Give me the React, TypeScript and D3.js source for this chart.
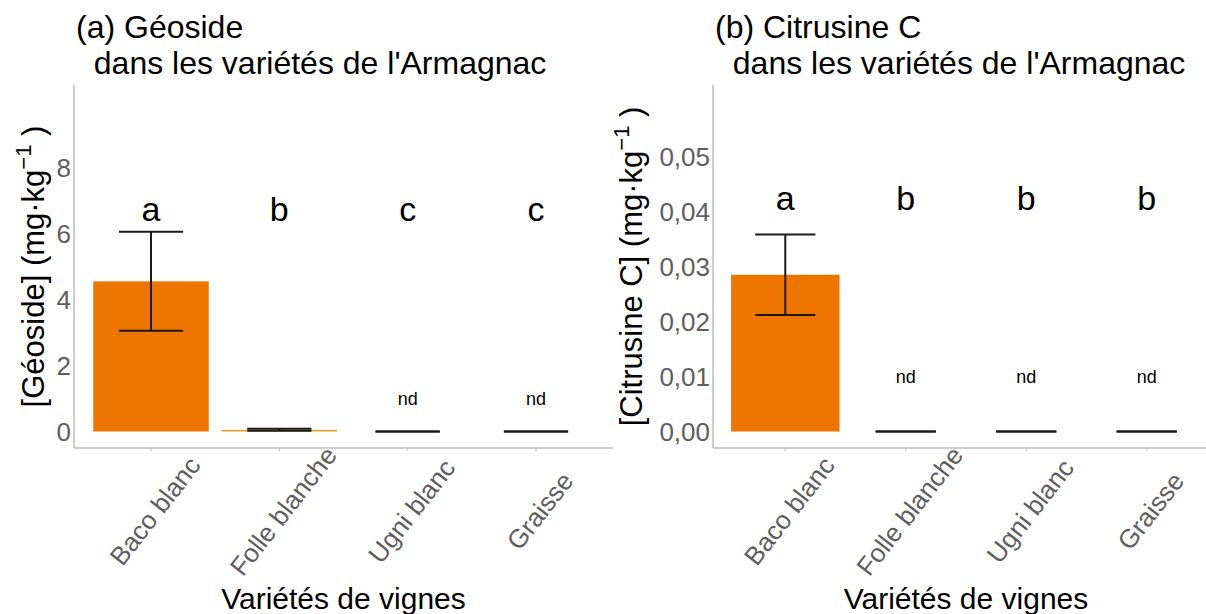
import * as d3 from 'd3'

const categories = ['Baco blanc', 'Folle blanche', 'Ugni blanc', 'Graisse']
const barColors = ['#EE7600', '#E2A32C', '#EE7600', '#EE7600']

// (a) Géoside, mg/kg
const geosideMean = [4.55, 0.05, 0, 0]
const geosideSe = [1.5, 0.03, 0, 0]
const geosideLetters = ['a', 'b', 'c', 'c']
const geosideNd = [false, false, true, true]
const geosideTicks = [0, 2, 4, 6, 8]

// (b) Citrusine C, mg/kg
const citrusineMean = [0.0285, 0, 0, 0]
const citrusineSe = [0.0073, 0, 0, 0]
const citrusineLetters = ['a', 'b', 'b', 'b']
const citrusineNd = [false, true, true, true]
const citrusineTicks = [0, 0.01, 0.02, 0.03, 0.04, 0.05]

const FONT = "'Liberation Sans', Arial, sans-serif"
const AXIS_GREY = '#bdbdbd'
const TICK_GREY = '#5e5e5e'

interface PanelProps {
  left: number
  right: number
  domain: [number, number]
  ticks: number[]
  fmt: (v: number) => string
  means: number[]
  ses: number[]
  letters: string[]
  nd: boolean[]
  letterY: number
  ndY: number
  title: string
  yName: string
  yTitleX: number
}

function Panel(p: PanelProps) {
  const top = 85
  const bottom = 448
  const x = d3.scalePoint<string>().domain(categories).range([p.left, p.right]).padding(0.6)
  const y = d3.scaleLinear().domain(p.domain).range([bottom, top])
  const step = x.step()
  const barW = step * 0.9
  const capW = step * 0.5
  const midX = (p.left + p.right) / 2
  const midY = (top + bottom) / 2

  return (
    <g>
      {/* title */}
      <text x={p.left + 2} y={38} fontSize={32} fill="#000">{p.title}</text>
      <text x={p.left + 2} y={74} fontSize={32} fill="#000" style={{ whiteSpace: 'pre' }}>
        {'  dans les variétés de l\'Armagnac'}
      </text>

      {/* axes */}
      <line x1={p.left} x2={p.left} y1={top} y2={bottom} stroke={AXIS_GREY} strokeWidth={1.5} />
      <line x1={p.left} x2={p.right} y1={bottom} y2={bottom} stroke={AXIS_GREY} strokeWidth={1.5} />
      {categories.map(c => (
        <line key={c} x1={x(c)} x2={x(c)} y1={bottom} y2={bottom + 3} stroke={AXIS_GREY} strokeWidth={1} />
      ))}

      {/* y ticks */}
      {p.ticks.map(t => (
        <text key={t} x={p.left - 3} y={y(t)} fontSize={26} fill={TICK_GREY}
          textAnchor="end" dominantBaseline="central">{p.fmt(t)}</text>
      ))}

      {/* x tick labels, rotated about their centre */}
      {categories.map(c => (
        <text key={c} transform={`translate(${(x(c) ?? 0) + 4},${bottom + 63}) rotate(-52)`}
          fontSize={26} fill={TICK_GREY} textAnchor="middle" dominantBaseline="central">{c}</text>
      ))}

      {/* bars */}
      {categories.map((c, i) => p.means[i] > 0 && (
        <rect key={c} x={(x(c) ?? 0) - barW / 2} y={y(p.means[i])}
          width={barW} height={y(0) - y(p.means[i])} fill={barColors[i]} />
      ))}

      {/* error bars */}
      {categories.map((c, i) => {
        const cx = x(c) ?? 0
        const lo = y(p.means[i] - p.ses[i])
        const hi = y(p.means[i] + p.ses[i])
        return (
          <g key={c} stroke="#1a1a1a" strokeWidth={2}>
            <line x1={cx} x2={cx} y1={lo} y2={hi} />
            <line x1={cx - capW / 2} x2={cx + capW / 2} y1={lo} y2={lo} />
            <line x1={cx - capW / 2} x2={cx + capW / 2} y1={hi} y2={hi} />
          </g>
        )
      })}

      {/* significance letters */}
      {categories.map((c, i) => (
        <text key={c} x={x(c)} y={y(p.letterY)} fontSize={34} fill="#000"
          textAnchor="middle" dominantBaseline="central">{p.letters[i]}</text>
      ))}

      {/* not detected */}
      {categories.map((c, i) => p.nd[i] && (
        <text key={c} x={x(c)} y={y(p.ndY)} fontSize={18} fill="#000"
          textAnchor="middle" dominantBaseline="central">nd</text>
      ))}

      {/* axis titles */}
      <text x={midX} y={609} fontSize={30} fill="#000" textAnchor="middle">Variétés de vignes</text>
      <text transform={`translate(${p.yTitleX},${midY}) rotate(-90)`} fontSize={31} fill="#000"
        textAnchor="middle" style={{ whiteSpace: 'pre' }}>
        {p.yName + ' (mg·kg'}
        <tspan fontSize={22} dy={-13}>−1</tspan>
        <tspan dy={13}>{' )'}</tspan>
      </text>
    </g>
  )
}

export default function App() {
  const fmtComma = (v: number) => d3.format('.2f')(v).replace('.', ',')
  return (
    <svg width={1206} height={614} fontFamily={FONT}
      style={{ position: 'absolute', left: 0, top: 0, background: '#fff' }}>
      <rect width={1206} height={614} fill="#fff" />
      <Panel left={74} right={613} domain={[-0.5, 10.5]} ticks={geosideTicks} fmt={v => String(v)}
        means={geosideMean} ses={geosideSe} letters={geosideLetters} nd={geosideNd}
        letterY={6.75} ndY={1} title="(a) Géoside" yName="[Géoside]" yTitleX={44} />
      <Panel left={713} right={1219} domain={[-0.003, 0.063]} ticks={citrusineTicks} fmt={fmtComma}
        means={citrusineMean} ses={citrusineSe} letters={citrusineLetters} nd={citrusineNd}
        letterY={0.0425} ndY={0.01} title="(b) Citrusine C" yName="[Citrusine C]" yTitleX={642} />
    </svg>
  )
}
